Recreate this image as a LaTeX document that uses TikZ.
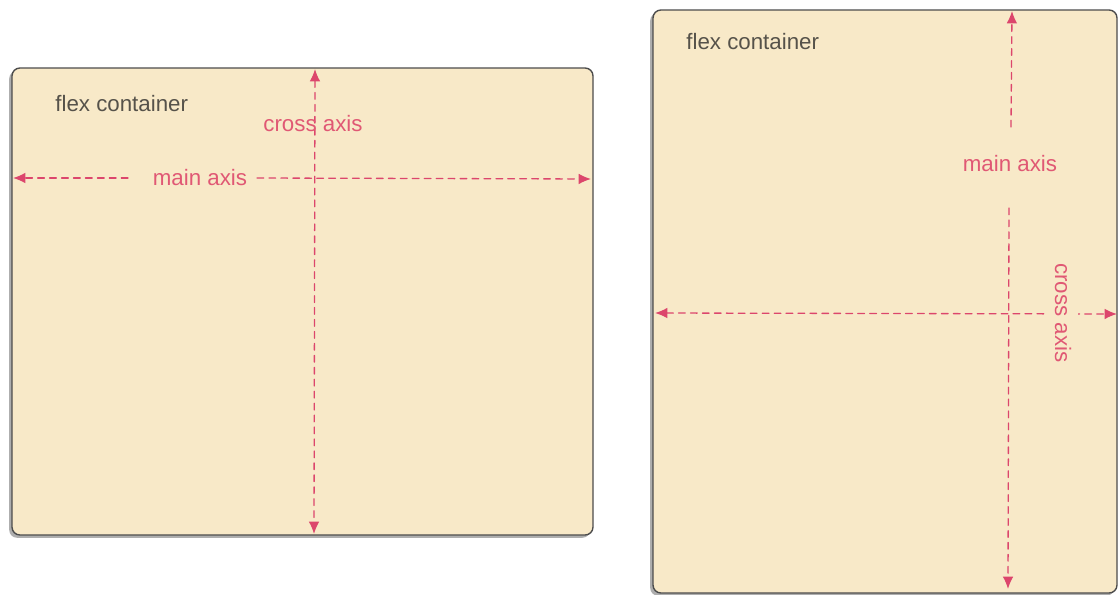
\documentclass[tikz,border=0pt]{standalone}
\usepackage{fontspec}
\setsansfont{Liberation Sans}
\usetikzlibrary{arrows.meta,shadows}
\definecolor{boxfill}{RGB}{248,233,200}
\definecolor{axispink}{RGB}{220,70,108}
\definecolor{labelpink}{RGB}{224,88,116}
\definecolor{labelgray}{RGB}{86,82,74}
\tikzset{
	container/.style={draw=black!70,line width=0.8pt,fill=boxfill,rounded corners=4.5pt,
		drop shadow={shadow xshift=-1.6pt,shadow yshift=-1.6pt,opacity=0.45,fill=black!70}},
	axisline/.style={draw=axispink,line width=0.75pt,dash pattern=on 3.8pt off 3pt},
	axislabel/.style={text=labelpink,inner sep=0pt},
	boxlabel/.style={text=labelgray,inner sep=0pt,anchor=west}
}
\begin{document}
\begin{tikzpicture}[x=0.02cm,y=-0.02cm,line
	join=round,line
	cap=round,font=\sffamily\fontsize{12.7}{15}\selectfont,>={Latex[length=7pt,width=6pt]}]
	\useasboundingbox (0,0) rectangle (1120,595);
	% left container
	\draw[container] (12,68) rectangle (593,535);
	\path (13,178) coordinate (lW)
	(591,179) coordinate (lE)
	(315,69) coordinate (lN)
	(314,534) coordinate (lS)
	(128,178) coordinate (lgapW)
	(257,178) coordinate (lgapE);
	\draw[axisline,<->] (lN)--(lS);
	\draw[axisline,->] (lgapW)--(lW);
	\draw[axisline,->] (lgapE)--(lE);
	\node[boxlabel] (lname) at (55,104) {flex container};
	\node[axislabel] (lcross) at (313,124) {cross axis};
	\node[axislabel] (lmain) at (200,178) {main axis};
	% right container
	\draw[container] (653,10) rectangle (1117,593);
	\path (655,313) coordinate (rW)
	(1117,314) coordinate (rE)
	(1012,11) coordinate (rN)
	(1011,127) coordinate (rgapN)
	(1009,208) coordinate (rgapS)
	(1008,589) coordinate (rS);
	\draw[axisline,<->] (rW)--(rE);
	\draw[axisline,->] (rgapN)--(rN);
	\draw[axisline,->] (rgapS)--(rS);
	\node[boxlabel] (rname) at (686,42) {flex container};
	\node[axislabel] (rmain) at (1010,164) {main axis};
	\node[axislabel,rotate=-90,fill=boxfill,inner xsep=4pt,inner ysep=4pt] (rcross) at (1063,313) {cross axis};
\end{tikzpicture}
\end{document}
